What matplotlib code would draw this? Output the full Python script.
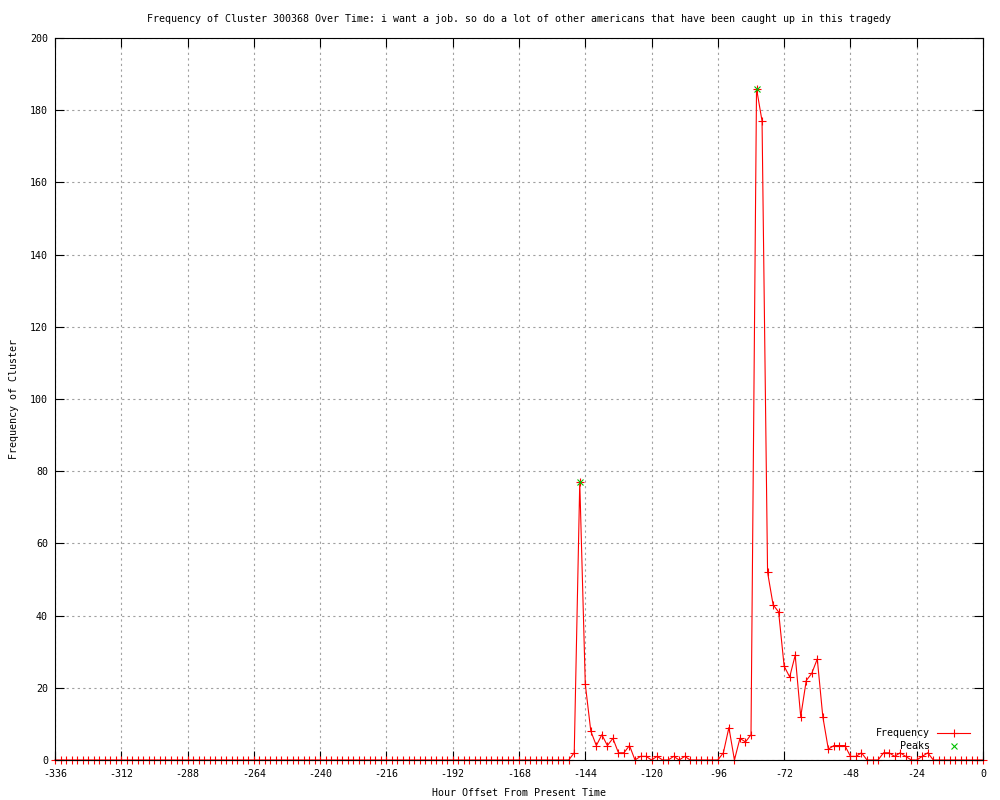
import numpy as np
import matplotlib
matplotlib.use('Agg')
import matplotlib.pyplot as plt

# hour offsets, every 2 hours from -336 to 0
hours = list(range(-336, 1, 2))

# nonzero frequencies (everything else is 0)
nonzero = {
    -148: 2, -146: 77, -144: 21, -142: 8, -140: 4, -138: 7, -136: 4,
    -134: 6, -132: 2, -130: 2, -128: 4, -124: 1, -122: 1, -118: 1,
    -112: 1, -108: 1,
    -94: 2, -92: 9, -88: 6, -86: 5, -84: 7, -82: 186, -80: 177,
    -78: 52, -76: 43, -74: 41, -72: 26, -70: 23, -68: 29, -66: 12,
    -64: 22, -62: 24, -60: 28, -58: 12, -56: 3, -54: 4, -52: 4,
    -50: 4, -48: 1, -46: 1, -44: 2, -36: 2, -34: 2, -32: 1, -30: 2,
    -28: 1, -22: 1, -20: 2,
}
freq = [nonzero.get(h, 0) for h in hours]

peak_hours = [-146, -82]
peak_vals = [77, 186]

xticks = list(range(-336, 1, 24))
yticks = list(range(0, 201, 20))

title = ('Frequency of Cluster 300368 Over Time: i want a job. so do a lot of '
         'other americans that have been caught up in this tragedy')

plt.rcParams['font.family'] = ['DejaVu Sans Mono']
plt.rcParams['axes.unicode_minus'] = False
fs = 7.2

fig = plt.figure(figsize=(10, 8), dpi=100)
ax = fig.add_axes([0.055, 0.05, 0.928, 0.9025])

ax.plot(hours, freq, color='#ff0000', lw=0.8, marker='+', ms=6, mew=0.8,
        clip_on=False, zorder=3, label='Frequency')
ax.plot(peak_hours, peak_vals, color='#00c000', lw=0, marker='x', ms=5,
        mew=0.8, clip_on=False, zorder=4, label='    Peaks')

ax.set_xlim(-336, 0)
ax.set_ylim(0, 200)
ax.set_xticks(xticks)
ax.set_yticks(yticks)
ax.tick_params(direction='in', length=6.5, width=0.8, top=True, right=True,
               labelsize=fs)
ax.tick_params(axis='x', pad=6.5)
ax.tick_params(axis='y', pad=5)
ax.grid(True, color='#a0a0a0', linestyle=(0, (2, 3)), linewidth=0.8)
for s in ax.spines.values():
    s.set_linewidth(0.8)
    s.set_zorder(5)

ax.set_title(title, fontsize=fs, pad=11.5)
ax.set_xlabel('Hour Offset From Present Time', fontsize=fs, labelpad=6.5)
ax.set_ylabel('Frequency of Cluster', fontsize=fs, labelpad=8)

ax.legend(loc='lower right', bbox_to_anchor=(0.97, 0.061),
          bbox_transform=fig.transFigure, frameon=False, markerfirst=False,
          fontsize=fs, handlelength=3.3, handletextpad=0.7,
          labelspacing=0.3, borderpad=0, borderaxespad=0)

plt.savefig('out.png', dpi=100)
